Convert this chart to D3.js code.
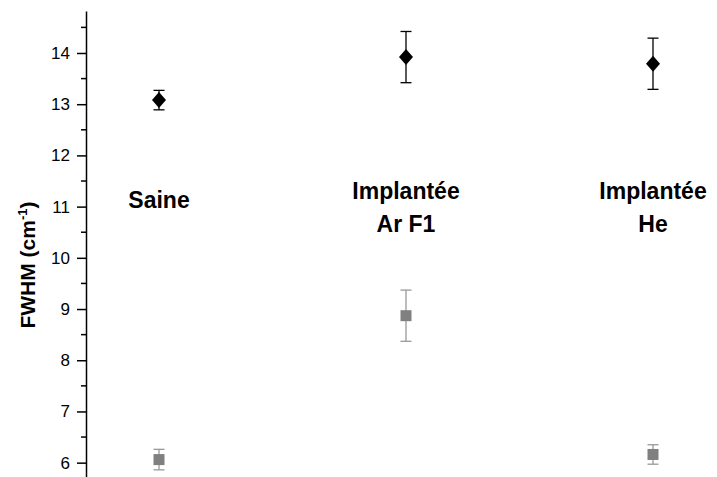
<!DOCTYPE html>
<html>
<head>
<meta charset="utf-8">
<script src="https://cdn.jsdelivr.net/npm/d3@7"></script>
<style>
  html, body { margin: 0; padding: 0; background: #fff; }
  svg { display: block; }
  svg text { font-family: 'Liberation Sans', Arial, sans-serif; }
</style>
</head>
<body>
<svg id="chart" width="717" height="477"></svg>
<script>
(function () {
    'use strict';

    const groups = ['Saine', 'Implantée Ar F1', 'Implantée He'];
    const groupLabels = [['Saine'], ['Implantée', 'Ar F1'], ['Implantée', 'He']];
    const labelValues = [10.97, 11.15, 11.15];

    const diamondValues = [13.08, 13.92, 13.79];
    const diamondErrors = [0.19, 0.5, 0.5];
    const squareValues = [6.06, 8.87, 6.16];
    const squareErrors = [0.2, 0.5, 0.19];

    const yTicks = [6, 7, 8, 9, 10, 11, 12, 13, 14];
    const yMinor = [6.5, 7.5, 8.5, 9.5, 10.5, 11.5, 12.5, 13.5, 14.5];

    const ff = "'Liberation Sans', Arial, sans-serif";
    const sv = d3.select('#chart');

    const x_sc = d3.scalePoint().domain(groups).range([159, 653]);
    const y_sc = d3.scaleLinear().domain([5.72, 14.82]).range([477, 11]);

    // axis
    const ax = sv.append('g').attr('transform', 'translate(86,0)');
    ax.call(d3.axisLeft(y_sc).tickValues(yTicks).tickSize(9).tickSizeOuter(0).tickPadding(7).tickFormat(d3.format('d')));
    ax.attr('font-family', ff);
    ax.select('.domain').attr('stroke', '#000').attr('stroke-width', 1.5);
    ax.selectAll('.tick line').attr('stroke', '#000').attr('stroke-width', 1.5);
    ax.selectAll('.tick text').style('font-size', '17px').attr('fill', '#000');

    ax.selectAll('.minor')
        .data(yMinor)
        .enter()
        .append('line')
        .attr('class', 'minor')
        .attr('x1', -5).attr('x2', 0)
        .attr('y1', d => y_sc(d)).attr('y2', d => y_sc(d))
        .attr('stroke', '#000').attr('stroke-width', 1.5);

    // axis title
    const ti = sv.append('text')
        .attr('transform', `translate(35,${265}) rotate(-90)`)
        .attr('text-anchor', 'middle')
        .attr('font-family', ff)
        .style('font-size', '21px')
        .style('font-weight', 'bold')
        .attr('fill', '#000');
    ti.append('tspan').text('FWHM (cm');
    ti.append('tspan').attr('dy', -8).style('font-size', '13px').text('-1');
    ti.append('tspan').attr('dy', 8).text(')');

    // group labels
    groups.forEach((g, i) => {
        const t = sv.append('text')
            .attr('x', x_sc(g))
            .attr('y', y_sc(labelValues[i]))
            .attr('text-anchor', 'middle')
            .attr('font-family', ff)
            .style('font-size', '23px')
            .style('font-weight', 'bold')
            .attr('fill', '#000');
        groupLabels[i].forEach((ln, j) => {
            t.append('tspan').attr('x', x_sc(g)).attr('dy', j === 0 ? 0 : 33).text(ln);
        });
    });

    function errorBars(values, errors, color, cap) {
        const gr = sv.append('g').attr('stroke', color).attr('stroke-width', 1.3);
        groups.forEach((g, i) => {
            const cx = x_sc(g);
            const y1 = y_sc(values[i] + errors[i]);
            const y2 = y_sc(values[i] - errors[i]);
            gr.append('line').attr('x1', cx).attr('x2', cx).attr('y1', y1).attr('y2', y2);
            gr.append('line').attr('x1', cx - cap).attr('x2', cx + cap).attr('y1', y1).attr('y2', y1);
            gr.append('line').attr('x1', cx - cap).attr('x2', cx + cap).attr('y1', y2).attr('y2', y2);
        });
    }

    errorBars(squareValues, squareErrors, '#999999', 5.5);
    errorBars(diamondValues, diamondErrors, '#000000', 5.5);

    // square markers
    sv.append('g').selectAll('rect')
        .data(squareValues)
        .enter()
        .append('rect')
        .attr('x', (d, i) => x_sc(groups[i]) - 5.5)
        .attr('y', d => y_sc(d) - 5.5)
        .attr('width', 11)
        .attr('height', 11)
        .attr('fill', '#808080');

    // diamond markers
    sv.append('g').selectAll('path')
        .data(diamondValues)
        .enter()
        .append('path')
        .attr('d', (d, i) => {
            const cx = x_sc(groups[i]);
            const cy = y_sc(d);
            return `M${cx},${cy - 8}L${cx + 7},${cy}L${cx},${cy + 8}L${cx - 7},${cy}Z`;
        })
        .attr('fill', '#000');
})();
</script>
</body>
</html>
